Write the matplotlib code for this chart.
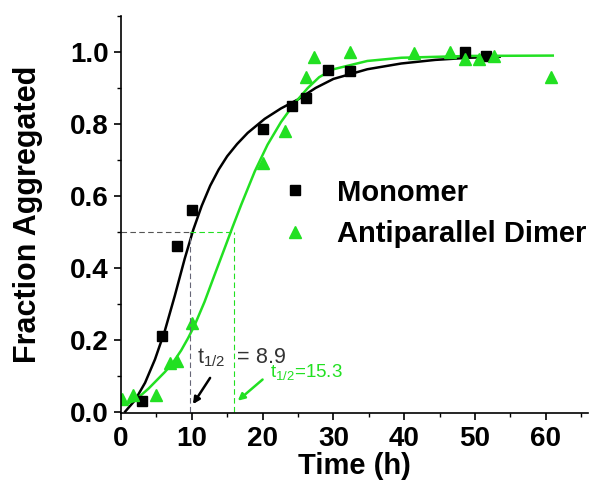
import matplotlib
matplotlib.use("Agg")
import matplotlib.pyplot as plt
from matplotlib.ticker import MultipleLocator

plt.rcParams['font.family'] = ['Liberation Sans', 'DejaVu Sans']

# measured points
mono_t = [3.0, 5.8, 7.9, 10.0, 20.0, 24.2, 26.2, 29.3, 32.3, 48.6, 51.5]
mono_f = [0.03, 0.21, 0.46, 0.56, 0.786, 0.85, 0.872, 0.95, 0.947, 1.0, 0.988]

dimer_t = [0.1, 1.7, 5.0, 6.9, 7.9, 10.1, 20.0, 23.2, 26.2, 27.2, 32.4,
           41.4, 46.5, 48.6, 50.6, 52.7, 60.7]
dimer_f = [0.036, 0.045, 0.045, 0.135, 0.14, 0.245, 0.69, 0.78, 0.93, 0.985, 1.0,
           0.998, 1.0, 0.98, 0.98, 0.988, 0.93]

# fitted curves
mono_fit_t = [0.6, 2.0, 3.4, 4.8, 6.2, 7.6, 9.0, 10.2, 11.4, 12.6, 13.8, 15.0, 16.4,
              17.9, 20.3, 22.6, 25.0, 27.5, 30.0, 34.8, 39.6, 44.4, 49.2, 53.5]
mono_fit_f = [0.0, 0.032, 0.08, 0.145, 0.225, 0.322, 0.425, 0.505, 0.572, 0.628, 0.673, 0.71,
              0.744, 0.775, 0.814, 0.843, 0.868, 0.9, 0.925, 0.952, 0.968, 0.978, 0.984, 0.987]

dimer_fit_t = [0.0, 0.6, 2.0, 3.9, 6.2, 7.3, 8.5, 9.5, 10.4, 11.8, 13.2, 14.6, 15.8,
               17.0, 18.9, 20.7, 22.6, 24.5, 26.4, 28.0, 30.0, 34.8, 39.6, 49.2, 61.0]
dimer_fit_f = [0.025, 0.02, 0.031, 0.064, 0.11, 0.135, 0.17, 0.205, 0.24, 0.305, 0.379, 0.452,
               0.515, 0.576, 0.668, 0.742, 0.805, 0.857, 0.9, 0.93, 0.952, 0.975, 0.984, 0.989, 0.99]

t_half_mono_pos = 9.8
t_half_dimer_pos = 15.9

green = '#22e022'

fig = plt.figure(figsize=(6.02, 5.01), dpi=100)
ax = fig.add_axes([0.201, 0.175, 0.776, 0.793])

ax.plot(mono_fit_t, mono_fit_f, color='black', lw=1.8)
ax.plot(dimer_fit_t, dimer_fit_f, color=green, lw=1.8)

ax.plot(mono_t, mono_f, 's', color='black', ms=6.5, label='Monomer')
ax.plot(dimer_t, dimer_f, '^', color=green, ms=8.5, label='Antiparallel Dimer')

# half-time guide lines
ax.plot([0, t_half_mono_pos], [0.5, 0.5], ls=(0, (5, 3)), color='#555555', lw=0.8)
ax.plot([t_half_mono_pos, t_half_mono_pos], [0, 0.5], ls=(0, (5, 3)), color='#666677', lw=0.8)
ax.plot([t_half_mono_pos, t_half_dimer_pos], [0.5, 0.5], ls=(0, (5, 3)), color=green, lw=0.8)
ax.plot([t_half_dimer_pos, t_half_dimer_pos], [0, 0.5], ls=(0, (5, 3)), color=green, lw=0.8)

ax.annotate('', xy=(9.95, 0.014), xytext=(12.8, 0.10),
            arrowprops=dict(arrowstyle='-|>', color='black', lw=1.8, mutation_scale=10))
ax.annotate('', xy=(16.2, 0.025), xytext=(20.3, 0.094),
            arrowprops=dict(arrowstyle='-|>', color=green, lw=1.8, mutation_scale=10))
ax.text(10.8, 0.15, r'$\mathregular{t_{1/2}}$  = 8.9', fontsize=15.5, color='#333333', va='center')
ax.text(21.1, 0.11, r'$\mathregular{t_{1/2}}$=15.3', fontsize=13.5, color=green, va='center')

ax.set_xlim(0, 66)
ax.set_ylim(-0.005, 1.1)
ax.xaxis.set_major_locator(MultipleLocator(10))
ax.xaxis.set_minor_locator(MultipleLocator(5))
ax.yaxis.set_minor_locator(MultipleLocator(0.1))
ax.set_yticks([0.0, 0.2, 0.4, 0.6, 0.8, 1.0])
ax.set_yticklabels(['0.0', '0.2', '0.4', '0.6', '0.8', '1.0'])

ax.spines['top'].set_visible(False)
ax.spines['right'].set_visible(False)
for s in ['left', 'bottom']:
    ax.spines[s].set_linewidth(1.2)
ax.tick_params(which='major', direction='out', length=5, width=1.2, labelsize=20, pad=4)
ax.tick_params(which='minor', direction='out', length=3, width=1.0)
for lab in ax.get_xticklabels() + ax.get_yticklabels():
    lab.set_fontweight('bold')

ax.set_xlabel('Time (h)', fontsize=21, fontweight='bold', labelpad=0)
ax.set_ylabel('Fraction Aggregated', fontsize=22, fontweight='bold', labelpad=19)

ax.legend(loc='upper left', bbox_to_anchor=(0.31, 0.62), frameon=False,
          prop={'weight': 'bold', 'size': 21}, handletextpad=0.85, labelspacing=0.45,
          handlelength=1.2, borderaxespad=0)

fig.savefig('out.png', dpi=100)
